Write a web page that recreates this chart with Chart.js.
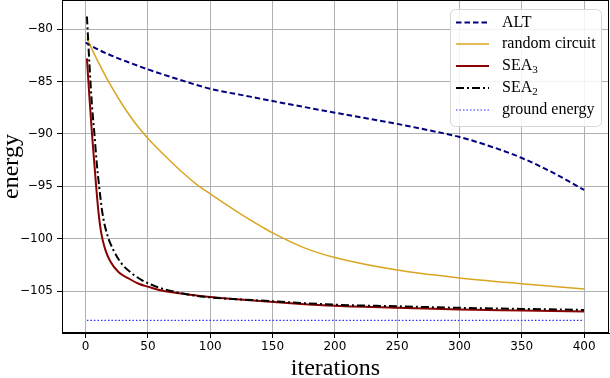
<!DOCTYPE html>
<html><head><meta charset="utf-8">
<script src="https://cdn.jsdelivr.net/npm/chart.js@4.4.0/dist/chart.umd.min.js"></script>
<style>html,body{margin:0;padding:0;background:#fff;overflow:hidden}</style>
</head><body>
<canvas id="c" width="610" height="378" style="display:block;width:610px;height:378px"></canvas>
<script>
// ---- data ----
const seriesNames = ['ALT', 'random circuit', 'SEA₃', 'SEA₂', 'ground energy'];

const altIter   = [0, 10, 20, 35, 50, 73, 100, 132, 150, 200, 250, 275, 300, 325, 350, 375, 400];
const altEnergy = [-81.3, -81.95, -82.5, -83.2, -83.85, -84.75, -85.7, -86.45, -86.87, -87.98, -89.05, -89.65, -90.3, -91.2, -92.3, -93.7, -95.35];

const randIter   = [1, 10, 20, 30, 40, 50, 62, 76, 89, 100, 116, 129, 142.5, 150, 175, 200, 250, 300, 350, 400];
const randEnergy = [-80.9, -83.13, -85.36, -87.32, -89.02, -90.45, -91.9, -93.5, -94.82, -95.72, -97.0, -98.0, -98.95, -99.45, -100.85, -101.8, -103.0, -103.75, -104.3, -104.8];

const sea3Iter   = [1, 3, 5, 7, 8.4, 10.3, 12.4, 15.6, 19.7, 26.5, 34.5, 42.5, 50.5, 61, 75, 90, 113, 140, 170, 200, 250, 300, 350, 400];
const sea3Energy = [-82.8, -86.5, -89.9, -92.9, -95.0, -97.5, -99.4, -101.0, -102.15, -103.2, -103.8, -104.3, -104.6, -104.95, -105.2, -105.45, -105.7, -105.95, -106.2, -106.4, -106.6, -106.75, -106.85, -106.95];

const sea2Iter   = [1, 3, 5, 7, 8.9, 10.8, 13.5, 17, 22.3, 29, 37, 45, 53, 61, 81, 100, 140, 200, 250, 300, 350, 400];
const sea2Energy = [-78.8, -83.3, -87.2, -90.0, -92.8, -95.0, -97.6, -99.5, -101.1, -102.4, -103.3, -103.95, -104.4, -104.75, -105.3, -105.6, -105.9, -106.3, -106.45, -106.6, -106.7, -106.8];

const groundIter   = [1, 400];
const groundEnergy = [-107.8, -107.8];

const xTickValues = [0, 50, 100, 150, 200, 250, 300, 350, 400];
const yTickValues = [-105, -100, -95, -90, -85, -80];

// ---- helpers ----
const zip = (xs, ys) => xs.map((x, i) => ({ x: x, y: ys[i] }));
const fmt = v => (v < 0 ? '\u2212' + Math.abs(v) : String(v));
const subMap = { '₀':'0','₁':'1','₂':'2','₃':'3','₄':'4','₅':'5','₆':'6','₇':'7','₈':'8','₉':'9' };
const noPad = s => { s.paddingTop = 0; s.paddingBottom = 0; s.paddingLeft = 0; s.paddingRight = 0; };

const framePlugin = {
  id: 'frameAndLegend',
  afterDraw(chart) {
    const { ctx, chartArea: a } = chart;
    ctx.save();
    ctx.strokeStyle = '#000';
    ctx.lineWidth = 1;
    ctx.strokeRect(Math.round(a.left) + 0.5, Math.round(a.top) + 0.5,
                   Math.round(a.right - a.left) - 1, Math.round(a.bottom - a.top) - 1);

    // legend box
    const bx = 450.5, by = 9.5, bw = 151, bh = 117, r = 5;
    ctx.beginPath();
    ctx.moveTo(bx + r, by);
    ctx.arcTo(bx + bw, by, bx + bw, by + bh, r);
    ctx.arcTo(bx + bw, by + bh, bx, by + bh, r);
    ctx.arcTo(bx, by + bh, bx, by, r);
    ctx.arcTo(bx, by, bx + bw, by, r);
    ctx.closePath();
    ctx.fillStyle = 'rgba(255,255,255,0.85)';
    ctx.fill();
    ctx.strokeStyle = '#d6d6d6';
    ctx.stroke();

    const rows = [22.5, 44, 66, 88, 110];
    chart.data.datasets.forEach((ds, i) => {
      const y = rows[i];
      ctx.beginPath();
      ctx.setLineDash(ds.borderDash || []);
      ctx.strokeStyle = ds.borderColor;
      ctx.lineWidth = ds.borderWidth;
      ctx.moveTo(456, y);
      ctx.lineTo(489, y);
      ctx.stroke();
      ctx.setLineDash([]);
      ctx.fillStyle = '#000';
      ctx.textBaseline = 'middle';
      ctx.textAlign = 'left';
      let main = ds.label, sub = '';
      const last = main.slice(-1);
      if (subMap[last]) { sub = subMap[last]; main = main.slice(0, -1); }
      ctx.font = '16px "Liberation Serif"';
      ctx.fillText(main, 502, y);
      if (sub) {
        const w = ctx.measureText(main).width;
        ctx.font = '11px "Liberation Serif"';
        ctx.fillText(sub, 502 + w, y + 4);
      }
    });
    ctx.restore();
  }
};

new Chart(document.getElementById('c'), {
  type: 'line',
  data: {
    datasets: [
      { label: seriesNames[0], data: zip(altIter, altEnergy), borderColor: '#000080', borderWidth: 2, borderDash: [5.5, 3], order: 5 },
      { label: seriesNames[1], data: zip(randIter, randEnergy), borderColor: '#daa520', borderWidth: 1.5, order: 4 },
      { label: seriesNames[2], data: zip(sea3Iter, sea3Energy), borderColor: '#8b0000', borderWidth: 2, order: 3 },
      { label: seriesNames[3], data: zip(sea2Iter, sea2Energy), borderColor: '#000000', borderWidth: 2, borderDash: [8, 3, 2, 3], order: 2 },
      { label: seriesNames[4], data: zip(groundIter, groundEnergy), borderColor: '#2a2aff', borderWidth: 1.2, borderDash: [1.5, 2], order: 1 }
    ]
  },
  options: {
    responsive: false,
    animation: false,
    devicePixelRatio: 1,
    layout: { autoPadding: false, padding: { left: 0, right: 1, top: 0, bottom: 0 } },
    elements: { point: { radius: 0 }, line: { cubicInterpolationMode: 'monotone', fill: false } },
    plugins: { legend: { display: false }, tooltip: { enabled: false } },
    scales: {
      x: {
        type: 'linear', min: -19, max: 420,
        afterBuildTicks: s => { s.ticks = xTickValues.map(v => ({ value: v })); },
        afterFit: s => { s.height = 45; noPad(s); },
        grid: { color: '#b0b0b0', lineWidth: 1, tickColor: '#000', tickLength: 5, drawTicks: true },
        border: { display: true, color: '#000', width: 1 },
        ticks: { color: '#000', font: { family: 'DejaVu Sans', size: 12 }, padding: 2, maxRotation: 0, callback: v => fmt(v) },
        title: { display: true, text: 'iterations', color: '#000', font: { family: 'Liberation Serif', size: 24, lineHeight: 0.8 }, padding: 0 }
      },
      y: {
        type: 'linear', min: -109.0, max: -77.23,
        afterBuildTicks: s => { s.ticks = yTickValues.map(v => ({ value: v })); },
        afterFit: s => { s.width = 62; noPad(s); },
        grid: { color: '#b0b0b0', lineWidth: 1, tickColor: '#000', tickLength: 5, drawTicks: true },
        border: { display: true, color: '#000', width: 1 },
        ticks: { color: '#000', font: { family: 'DejaVu Sans', size: 12 }, padding: 4, callback: v => fmt(v) },
        title: { display: true, text: 'energy', color: '#000', font: { family: 'Liberation Serif', size: 24, lineHeight: 1 }, padding: 0 }
      }
    }
  },
  plugins: [framePlugin]
});
</script>
</body></html>
